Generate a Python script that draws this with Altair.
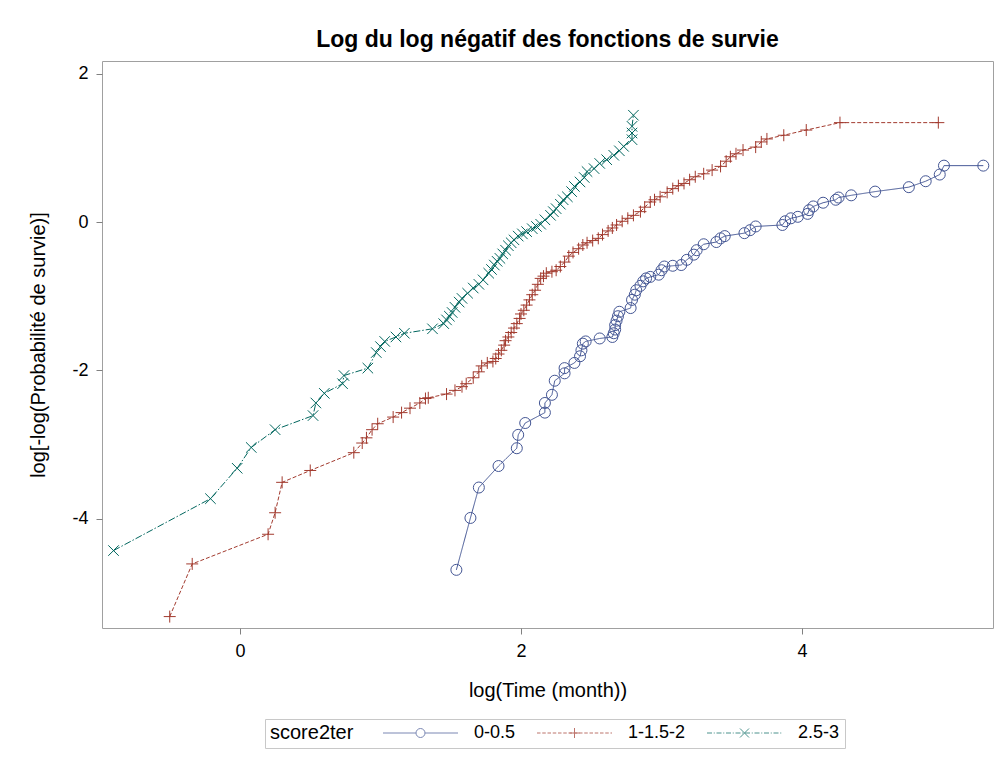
import altair as alt
import pandas as pd

SERIES = ["0-0.5", "1-1.5-2", "2.5-3"]
COLORS = ["#445694", "#A23A2E", "#01665E"]

# (log(time), log(-log(S)))
pts_0_05 = [(1.54,-4.69),(1.64,-3.99),(1.70,-3.58),(1.84,-3.29),(1.97,-3.05),(1.98,-2.87),(2.03,-2.71),
    (2.17,-2.57),(2.17,-2.44),(2.22,-2.33),(2.24,-2.14),(2.31,-2.04),(2.31,-1.97),(2.38,-1.90),(2.42,-1.81),
    (2.43,-1.73),(2.44,-1.64),(2.46,-1.61),(2.56,-1.57),(2.65,-1.55),(2.66,-1.50),(2.67,-1.45),(2.67,-1.39),
    (2.68,-1.33),(2.69,-1.27),(2.70,-1.21),(2.78,-1.16),(2.79,-1.05),(2.81,-0.98),(2.82,-0.92),(2.85,-0.86),
    (2.87,-0.80),(2.89,-0.76),(2.92,-0.74),(2.98,-0.71),(3.00,-0.65),(3.02,-0.60),(3.08,-0.59),(3.14,-0.58),
    (3.18,-0.51),(3.23,-0.44),(3.25,-0.38),(3.30,-0.30),(3.39,-0.27),(3.42,-0.22),(3.45,-0.19),(3.59,-0.15),
    (3.63,-0.11),(3.67,-0.06),(3.86,-0.04),(3.88,0.01),(3.92,0.05),(3.97,0.07),(4.04,0.11),(4.05,0.16),
    (4.08,0.21),(4.15,0.26),(4.24,0.30),(4.26,0.33),(4.35,0.36),(4.52,0.41),(4.76,0.47),(4.88,0.55),
    (4.98,0.64),(5.01,0.76),(5.29,0.76)]

pts_1_15_2 = [(-0.50,-5.32),(-0.34,-4.61),(0.20,-4.21),(0.25,-3.92),(0.30,-3.51),(0.50,-3.35),(0.81,-3.11),
    (0.87,-2.98),(0.90,-2.91),(0.94,-2.80),(0.98,-2.72),(1.09,-2.63),(1.15,-2.57),(1.21,-2.51),(1.28,-2.44),
    (1.32,-2.38),(1.34,-2.37),(1.47,-2.32),(1.53,-2.27),(1.58,-2.22),(1.61,-2.18),(1.66,-2.10),(1.70,-2.02),
    (1.72,-1.94),(1.76,-1.90),(1.80,-1.88),(1.82,-1.84),(1.84,-1.78),(1.86,-1.73),(1.88,-1.66),(1.89,-1.60),
    (1.91,-1.55),(1.93,-1.49),(1.95,-1.43),(1.97,-1.37),(1.99,-1.30),(2.00,-1.24),(2.02,-1.19),(2.04,-1.12),
    (2.06,-1.05),(2.08,-0.98),(2.10,-0.92),(2.12,-0.84),(2.14,-0.76),(2.16,-0.73),(2.18,-0.69),(2.22,-0.67),
    (2.25,-0.65),(2.28,-0.60),(2.31,-0.54),(2.34,-0.46),(2.37,-0.41),(2.41,-0.36),(2.44,-0.31),(2.47,-0.28),
    (2.51,-0.25),(2.55,-0.22),(2.58,-0.17),(2.62,-0.12),(2.65,-0.08),(2.68,-0.04),(2.72,0.01),(2.76,0.05),
    (2.80,0.09),(2.85,0.14),(2.88,0.20),(2.92,0.27),(2.95,0.30),(2.99,0.34),(3.04,0.40),(3.08,0.45),
    (3.12,0.49),(3.16,0.52),(3.20,0.57),(3.24,0.61),(3.30,0.65),(3.36,0.70),(3.42,0.75),(3.46,0.82),
    (3.49,0.88),(3.53,0.92),(3.58,0.97),(3.67,1.01),(3.71,1.08),(3.75,1.12),(3.87,1.17),(4.03,1.24),
    (4.27,1.34),(4.97,1.34)]

pts_25_3 = [(-0.90,-4.43),(-0.21,-3.73),(-0.02,-3.32),(0.08,-3.04),(0.25,-2.80),(0.52,-2.61),(0.54,-2.44),
    (0.60,-2.31),(0.73,-2.18),(0.74,-2.07),(0.91,-1.97),(0.97,-1.76),(1.00,-1.68),(1.03,-1.61),(1.11,-1.55),
    (1.17,-1.50),(1.37,-1.44),(1.45,-1.37),(1.47,-1.32),(1.49,-1.27),(1.51,-1.22),(1.53,-1.15),(1.56,-1.08),
    (1.58,-1.03),(1.62,-0.96),(1.66,-0.89),(1.70,-0.84),(1.73,-0.78),(1.77,-0.69),(1.79,-0.64),(1.81,-0.58),
    (1.83,-0.53),(1.85,-0.49),(1.87,-0.43),(1.89,-0.38),(1.91,-0.32),(1.93,-0.28),(1.95,-0.24),(1.98,-0.19),
    (2.01,-0.16),(2.04,-0.13),(2.08,-0.09),(2.11,-0.06),(2.14,-0.03),(2.17,0.03),(2.21,0.09),(2.23,0.14),
    (2.25,0.18),(2.28,0.24),(2.30,0.30),(2.33,0.34),(2.36,0.41),(2.38,0.48),(2.42,0.54),(2.45,0.60),
    (2.47,0.68),(2.52,0.72),(2.56,0.79),(2.61,0.84),(2.66,0.90),(2.70,0.96),(2.73,1.02),(2.79,1.11),
    (2.79,1.20),(2.79,1.29),(2.80,1.44)]

X_TICKS = [0, 2, 4]
Y_TICKS = [-4, -2, 0, 2]
X_DOMAIN = [-0.982, 5.359]
Y_DOMAIN = [-5.474, 2.171]

rows = []
for s, pts in zip(SERIES, [pts_0_05, pts_1_15_2, pts_25_3]):
    for i, (xv, yv) in enumerate(pts):
        rows.append({"series": s, "i": i, "x": xv, "y": yv})
df = pd.DataFrame(rows)

FONT = "Liberation Sans"

# marker shapes in the plot
PLUS = "M-1,0L1,0M0,-1L0,1"
XMARK = "M-1,-1L1,1M-1,1L1,-1"

# legend symbols: line + marker
def dashed(pattern, half=7.5):
    segs = []
    pos = -half
    k = 0
    while pos < half:
        d, g = pattern[k % len(pattern)]
        end = min(pos + d, half)
        segs.append("M%.2f,0L%.2f,0" % (pos, end))
        pos = end + g
        k += 1
    return "".join(segs)

LEG_BLUE = "M-7.5,0L-0.9,0M0.9,0L7.5,0M0.9,0A0.9,0.9,0,1,1,-0.9,0A0.9,0.9,0,1,1,0.9,0"
LEG_RED = dashed([(0.7, 0.35)]) + "M-1,0L1,0M0,-1L0,1"
LEG_GREEN = dashed([(1.0, 0.35), (0.2, 0.35)]) + "M-0.9,-0.9L0.9,0.9M-0.9,0.9L0.9,-0.9"

xenc = alt.X("x:Q", scale=alt.Scale(domain=X_DOMAIN, nice=False, zero=False),
             axis=alt.Axis(values=X_TICKS, title="log(Time (month))", labelExpr="'' + datum.value",
                           titleX=445.5, titleY=68, titleBaseline="alphabetic"))
yenc = alt.Y("y:Q", scale=alt.Scale(domain=Y_DOMAIN, nice=False, zero=False),
             axis=alt.Axis(values=Y_TICKS, title="log[-log(Probabilité de survie)]",
                           labelExpr="'' + datum.value",
                           titleX=-58, titleY=283.5, titleBaseline="alphabetic", titleAngle=270))

DASHES = [[1, 0], [4, 2], [7, 2, 1.5, 2]]
shapes = ["circle", PLUS, XMARK]
sizes = [121, 144, 110]

layers = []
for s, c, d, sh, sz in zip(SERIES, COLORS, DASHES, shapes, sizes):
    base = alt.Chart(df).transform_filter(alt.datum.series == s)
    layers.append(
        base.mark_line(strokeWidth=1, color=c, strokeDash=d).encode(
            x=xenc, y=yenc, order=alt.Order("i:Q"))
    )
    layers.append(
        base.mark_point(filled=False, strokeWidth=1, size=sz, opacity=1, color=c, shape=sh).encode(
            x=xenc, y=yenc)
    )

leg = alt.Legend(
    orient="none", legendX=163, legendY=658, direction="horizontal",
    title="score2ter", titleOrient="left", titleFont=FONT, titleFontSize=20, titleFontWeight="normal",
    titleColor="black", titlePadding=25, titleBaseline="middle",
    labelFont=FONT, labelFontSize=18, labelColor="black",
    symbolSize=100, symbolOffset=32.5, labelOffset=44.5, columnPadding=17,
    symbolStrokeWidth=1, padding=5, strokeColor="#c8c8c8", fillColor="white",
)

legend_layer = alt.Chart(df).transform_filter("datum.x > 100").mark_point(
    filled=False, strokeWidth=1, size=100
).encode(
    x=xenc, y=yenc,
    color=alt.Color("series:N", scale=alt.Scale(domain=SERIES, range=COLORS), legend=leg),
    shape=alt.Shape("series:N", scale=alt.Scale(domain=SERIES, range=[LEG_BLUE, LEG_RED, LEG_GREEN]), legend=leg),
)

chart = alt.layer(*layers, legend_layer).properties(
    width=891, height=567,
    title=alt.TitleParams("Log du log négatif des fonctions de survie", font=FONT, fontSize=23,
                          fontWeight="bold", color="black", anchor="middle", baseline="alphabetic",
                          offset=12, dy=21),
    autosize=alt.AutoSizeParams(type="none"),
    padding={"left": 94, "top": 53, "right": 4, "bottom": 121},
).configure_view(
    stroke="#a0a0a0", strokeWidth=1
).configure_axis(
    domain=False, grid=False, tickColor="#808080", tickSize=6, labelPadding=8,
    labelFont=FONT, labelFontSize=18, labelColor="black",
    titleFont=FONT, titleFontSize=20, titleFontWeight="normal", titleColor="black",
)

chart.save("out.html", embed_options={"renderer": "svg", "actions": False})
